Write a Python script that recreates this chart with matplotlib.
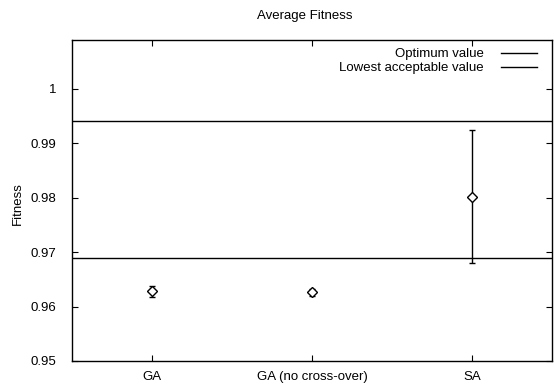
import matplotlib
matplotlib.use("Agg")
import matplotlib.pyplot as plt
from matplotlib.lines import Line2D

plt.rcParams['font.family'] = ['Liberation Sans', 'DejaVu Sans']

methods = ["GA", "GA (no cross-over)", "SA"]
mean_fitness = [0.9628, 0.9626, 0.9802]
fitness_err = [0.0010, 0.0007, 0.0122]
optimum_value = 0.9941
lowest_acceptable = 0.9690
yticks = [0.95, 0.96, 0.97, 0.98, 0.99, 1.0]
yticklabels = ["0.95", "0.96", "0.97", "0.98", "0.99", "1"]

FS = 9.5

fig = plt.figure(figsize=(5.54, 3.85), dpi=100)
ax = fig.add_axes([72/554, 1 - 361/385, (552-72)/554, (361-40)/385])

x = list(range(1, len(methods) + 1))
ax.errorbar(x, mean_fitness, yerr=fitness_err, fmt='D', mfc='white', mec='black',
            mew=1.0, ms=5, color='black', ecolor='black', elinewidth=1.0,
            capsize=2, capthick=1.0, zorder=3)

ax.axhline(optimum_value, color='black', lw=1.0)
ax.axhline(lowest_acceptable, color='black', lw=1.0)

ax.set_xlim(0.5, 3.5)
ax.set_ylim(0.95, 1.009)
ax.set_xticks(x)
ax.set_xticklabels(methods, fontsize=FS)
ax.set_yticks(yticks)
ax.set_yticklabels(yticklabels, fontsize=FS)
ax.tick_params(direction='in', top=True, right=True, length=4, width=0.8,
               labeltop=False, labelright=False)
ax.tick_params(axis='y', pad=11)
ax.tick_params(axis='x', pad=7)
for s in ax.spines.values():
    s.set_linewidth(1.0)

fig.text(305/554, 1 - 16/385, "Average Fitness", fontsize=FS, ha='center', va='center')
ax.set_ylabel("Fitness", fontsize=FS, va='center')
ax.yaxis.set_label_coords((18 - 72) / 480, 0.49)

handles = [Line2D([], [], color='black', lw=1.0),
           Line2D([], [], color='black', lw=1.0)]
ax.legend(handles, ["Optimum value", "Lowest acceptable value"], loc='upper right',
          frameon=False, markerfirst=False, handlelength=2.7, fontsize=FS,
          borderaxespad=0.2, labelspacing=0.15, handletextpad=1.3,
          bbox_to_anchor=(0.985, 1.0))

fig.savefig("out.png", dpi=100)
